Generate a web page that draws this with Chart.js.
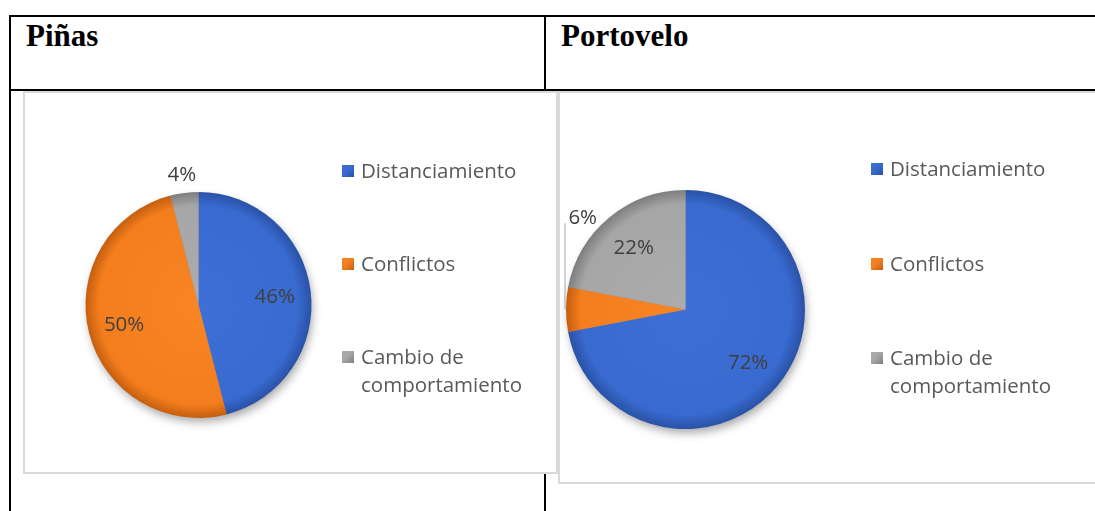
<!DOCTYPE html>
<html>
<head>
<meta charset="utf-8">
<script src="https://cdn.jsdelivr.net/npm/chart.js@4.4.1/dist/chart.umd.min.js"></script>
<style>
  html, body { margin:0; padding:0; background:#fff; width:1095px; height:511px; overflow:hidden; }
  body { position:relative; }
  .rule { position:absolute; background:#000; }
  .hdr { position:absolute; font-family:"Liberation Serif","Times New Roman",serif; font-weight:bold;
         font-size:31px; line-height:31px; color:#000; white-space:nowrap; }
  .box { position:absolute; background:#fff; border:2px solid #d9d9d9; box-sizing:border-box; }
  canvas.pie { position:absolute; }
  .leg { position:absolute; font-family:"Open Sans",sans-serif; font-size:20.5px; line-height:28px; color:#595959; width:175px; }
  .sw { position:absolute; width:12px; height:12px; }
</style>
</head>
<body>
<div class="rule" style="left:9px;top:15px;width:1086px;height:2px"></div>
<div class="rule" style="left:9px;top:15px;width:2px;height:496px"></div>
<div class="rule" style="left:544px;top:15px;width:2px;height:496px"></div>
<div class="rule" style="left:9px;top:89px;width:1086px;height:2px"></div>
<div class="hdr" id="h1" style="left:26px;top:20px"></div>
<div class="hdr" id="h2" style="left:561px;top:20px"></div>

<div class="box" style="left:23px;top:91px;width:535px;height:383px"></div>
<div class="box" style="left:558px;top:91px;width:600px;height:393px"></div>
<canvas class="pie" id="c1" width="533" height="381" style="left:24px;top:92px"></canvas>
<canvas class="pie" id="c2" width="536" height="391" style="left:559px;top:92px"></canvas>
<div id="leg1"></div>
<div id="leg2"></div>

<script>
// ---- data ----
const titles = ['Piñas', 'Portovelo'];
const categories = ['Distanciamiento', 'Conflictos', 'Cambio de comportamiento'];
const pinasValues = [46, 50, 4];
const portoveloValues = [72, 6, 22];
const pinasLabelPlacement = ['inside', 'inside', 'outside'];
const portoveloLabelPlacement = ['inside', 'callout', 'inside'];

// ---- styles ----
const baseColors = ['#386ad0', '#f47e1e', '#a6a6a6'];
const lightColors = ['#3d70d6', '#f88424', '#acacac'];
const rimColors = ['#2a52a6', '#c55e0e', '#7e7e7e'];

document.getElementById('h1').textContent = titles[0];
document.getElementById('h2').textContent = titles[1];

function sliceFill(ctx) {
  const chart = ctx.chart, a = chart.chartArea, i = ctx.dataIndex;
  if (!a) return baseColors[i];
  const cx = (a.left + a.right) / 2, cy = (a.top + a.bottom) / 2;
  const r = Math.min(a.right - a.left, a.bottom - a.top) / 2;
  const g = chart.ctx.createRadialGradient(cx, cy, 0, cx, cy, r);
  g.addColorStop(0, lightColors[i]);
  g.addColorStop(0.88, baseColors[i]);
  g.addColorStop(1, rimColors[i]);
  return g;
}

const shadowPlugin = {
  id: 'pieShadow',
  beforeDatasetsDraw(chart) {
    const arc = chart.getDatasetMeta(0).data[0];
    if (!arc) return;
    const p = arc.getProps(['x', 'y', 'outerRadius'], true);
    const c = chart.ctx;
    c.save();
    c.shadowColor = 'rgba(0,0,0,0.35)';
    c.shadowBlur = 10;
    c.shadowOffsetX = 2;
    c.shadowOffsetY = 5;
    c.fillStyle = '#888';
    c.beginPath();
    c.arc(p.x, p.y, p.outerRadius - 1, 0, Math.PI * 2);
    c.fill();
    c.restore();
  }
};

const labelPlugin = {
  id: 'sliceLabels',
  afterDatasetsDraw(chart, args, opts) {
    const meta = chart.getDatasetMeta(0);
    const data = chart.data.datasets[0].data;
    const c = chart.ctx;
    c.save();
    c.font = '20.5px "Open Sans"';
    c.fillStyle = '#404040';
    c.textAlign = 'center';
    c.textBaseline = 'alphabetic';
    meta.data.forEach((arc, i) => {
      const p = arc.getProps(['x', 'y', 'startAngle', 'endAngle', 'outerRadius'], true);
      const mid = (p.startAngle + p.endAngle) / 2, r = p.outerRadius;
      const mode = opts.placement[i];
      let lx, ly;
      if (mode === 'inside') {
        lx = p.x + Math.cos(mid) * r * 0.68;
        ly = p.y + Math.sin(mid) * r * 0.68;
      } else if (mode === 'outside') {
        lx = p.x + Math.cos(mid) * (r + 19);
        ly = p.y + Math.sin(mid) * (r + 19);
      } else {
        const ex = p.x + Math.cos(mid) * r, ey = p.y + Math.sin(mid) * r;
        lx = p.x - r * 0.86;
        ly = p.y - r * 0.78;
        c.strokeStyle = '#a6a6a6';
        c.lineWidth = 1;
        c.beginPath();
        c.moveTo(ex - 1, ly + 7);
        c.lineTo(ex - 1, ey);
        c.stroke();
      }
      c.fillText(data[i] + '%', lx, ly + 7.3);
    });
    c.restore();
  }
};

function makePie(id, values, placement, padding) {
  return new Chart(document.getElementById(id), {
    type: 'pie',
    data: {
      labels: categories,
      datasets: [{ data: values, backgroundColor: sliceFill, borderWidth: 0, hoverOffset: 0 }]
    },
    options: {
      responsive: false,
      animation: false,
      events: [],
      layout: { padding: padding },
      plugins: {
        legend: { display: false },
        tooltip: { enabled: false },
        sliceLabels: { placement: placement }
      }
    },
    plugins: [shadowPlugin, labelPlugin]
  });
}

const chart1 = makePie('c1', pinasValues, pinasLabelPlacement, { left: 61, top: 100, right: 245, bottom: 55 });
const chart2 = makePie('c2', portoveloValues, portoveloLabelPlacement, { left: 7, top: 98, right: 290, bottom: 54 });

function buildLegend(hostId, textLeft, swLeft, firstTop, step) {
  const host = document.getElementById(hostId);
  categories.forEach((cat, i) => {
    const top = firstTop + i * step;
    const sw = document.createElement('div');
    sw.className = 'sw';
    sw.style.left = swLeft + 'px';
    sw.style.top = (top + 9) + 'px';
    sw.style.background = 'linear-gradient(135deg,' + lightColors[i] + ' 0%,' + baseColors[i] + ' 45%,' + rimColors[i] + ' 100%)';
    host.appendChild(sw);
    const t = document.createElement('div');
    t.className = 'leg';
    t.style.left = textLeft + 'px';
    t.style.top = top + 'px';
    t.textContent = cat;
    host.appendChild(t);
  });
}
buildLegend('leg1', 361, 342, 156, 93);
buildLegend('leg2', 890, 871, 154, 94.5);
</script>
</body>
</html>
